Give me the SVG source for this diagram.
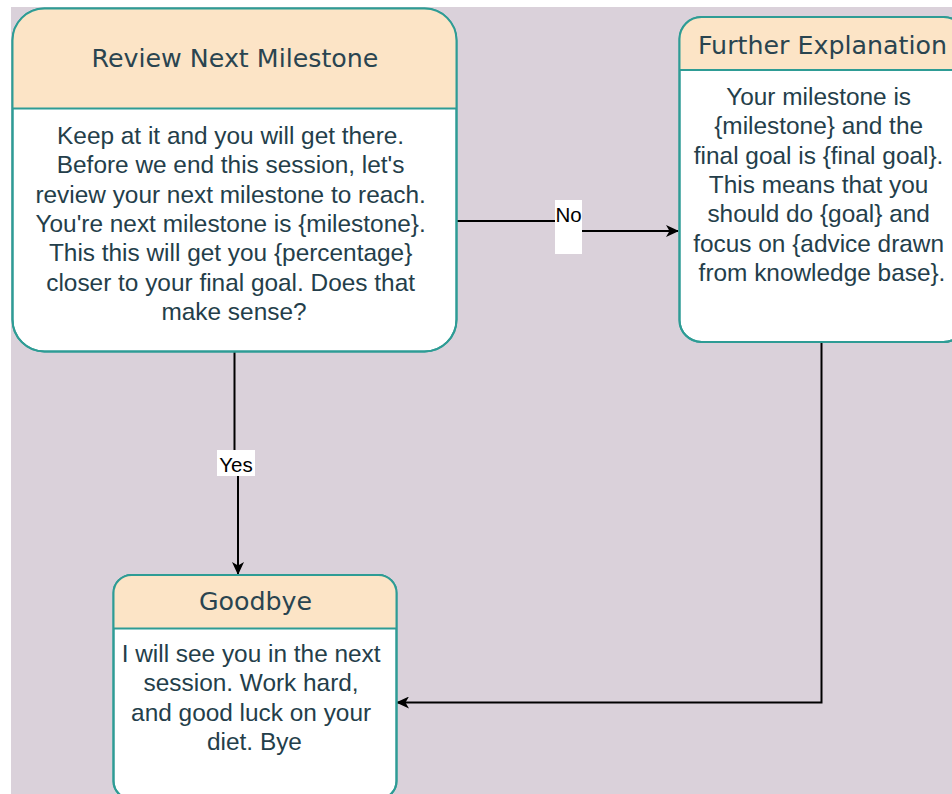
<svg xmlns="http://www.w3.org/2000/svg" width="952" height="794" viewBox="0 0 952 794">
  <style>
    .box { fill: #ffffff; stroke: #2e9c95; stroke-width: 2; }
    .head { fill: #fce4c6; }
    .sep { stroke: #2e9c95; stroke-width: 2; }
    .title { font-family: "DejaVu Sans", Verdana, sans-serif; font-size: 25.3px; fill: #2a4450; text-anchor: middle; }
    .body { font-family: "Liberation Sans", Arial, sans-serif; font-size: 24.4px; fill: #243e4a; text-anchor: middle; }
    .edge { fill: none; stroke: #000000; stroke-width: 2; }
    .lbl { font-family: "Liberation Sans", Arial, sans-serif; font-size: 20.5px; fill: #000000; text-anchor: middle; }
  </style>
  <defs>
    <marker id="arrow" viewBox="0 0 13 12" refX="12" refY="6" markerWidth="13" markerHeight="12" markerUnits="userSpaceOnUse" orient="auto">
      <path d="M0,0 L13,6 L0,12 L3.5,6 z" fill="#000000"/>
    </marker>
    <clipPath id="clipReview"><rect x="12.5" y="8.5" width="444" height="343" rx="32" ry="32"/></clipPath>
    <clipPath id="clipFurther"><rect x="679.5" y="17" width="286" height="325" rx="22" ry="22"/></clipPath>
    <clipPath id="clipGoodbye"><rect x="113.5" y="575" width="283" height="224" rx="18" ry="18"/></clipPath>
  </defs>

  <!-- canvas -->
  <rect x="0" y="0" width="952" height="794" fill="#ffffff"/>
  <rect x="11" y="7" width="941" height="787" fill="#dad1da"/>

  <!-- connectors -->
  <g id="connectors">
    <path class="edge" d="M234.5,352 L234.5,463 L238,463 L238,574" marker-end="url(#arrow)"/>
    <rect x="217" y="450" width="38" height="26" fill="#ffffff"/>
    <text class="lbl" x="236" y="472">Yes</text>

    <path class="edge" d="M457,221 L569,221 L569,231 L678,231" marker-end="url(#arrow)"/>
    <rect x="555" y="200" width="27" height="54" fill="#ffffff"/>
    <text class="lbl" x="568.5" y="222">No</text>

    <path class="edge" d="M821.5,342 L821.5,702.5 L397,702.5" marker-end="url(#arrow)"/>
  </g>

  <!-- Review Next Milestone -->
  <g id="review-next-milestone">
    <rect class="box" x="12.5" y="8.5" width="444" height="343" rx="32" ry="32"/>
    <rect class="head" x="12.5" y="8.5" width="444" height="100" clip-path="url(#clipReview)"/>
    <line class="sep" x1="12.5" y1="108.5" x2="456.5" y2="108.5"/>
    <rect x="12.5" y="8.5" width="444" height="343" rx="32" ry="32" fill="none" stroke="#2e9c95" stroke-width="2"/>
    <text class="title" x="235" y="67">Review Next Milestone</text>
    <text class="body" x="234">
      <tspan x="234" y="144">Keep at it and you will get there.</tspan>
      <tspan x="234" y="173.3">Before we end this session, let's</tspan>
      <tspan x="234" y="202.6">review your next milestone to reach.</tspan>
      <tspan x="234" y="231.9">You're next milestone is {milestone}.</tspan>
      <tspan x="234" y="261.2">This this will get you {percentage}</tspan>
      <tspan x="234" y="290.5">closer to your final goal. Does that</tspan>
      <tspan x="234" y="319.8">make sense?</tspan>
    </text>
  </g>

  <!-- Further Explanation -->
  <g id="further-explanation">
    <rect class="box" x="679.5" y="17" width="286" height="325" rx="22" ry="22"/>
    <rect class="head" x="679.5" y="17" width="286" height="53" clip-path="url(#clipFurther)"/>
    <line class="sep" x1="679.5" y1="70" x2="965.5" y2="70"/>
    <rect x="679.5" y="17" width="286" height="325" rx="22" ry="22" fill="none" stroke="#2e9c95" stroke-width="2"/>
    <text class="title" x="822.5" y="53.5">Further Explanation</text>
    <text class="body" x="822">
      <tspan x="822" y="105">Your milestone is</tspan>
      <tspan x="822" y="134.3">{milestone} and the</tspan>
      <tspan x="822" y="163.6">final goal is {final goal}.</tspan>
      <tspan x="822" y="192.9">This means that you</tspan>
      <tspan x="822" y="222.2">should do {goal} and</tspan>
      <tspan x="822" y="251.5">focus on {advice drawn</tspan>
      <tspan x="822" y="280.8">from knowledge base}.</tspan>
    </text>
  </g>

  <!-- Goodbye -->
  <g id="goodbye">
    <rect class="box" x="113.5" y="575" width="283" height="224" rx="18" ry="18"/>
    <rect class="head" x="113.5" y="575" width="283" height="53.5" clip-path="url(#clipGoodbye)"/>
    <line class="sep" x1="113.5" y1="628.5" x2="396.5" y2="628.5"/>
    <rect x="113.5" y="575" width="283" height="224" rx="18" ry="18" fill="none" stroke="#2e9c95" stroke-width="2"/>
    <text class="title" x="255.5" y="610">Goodbye</text>
    <text class="body" x="254.5">
      <tspan x="254.5" y="662">I will see you in the next</tspan>
      <tspan x="254.5" y="691.3">session. Work hard,</tspan>
      <tspan x="254.5" y="720.6">and good luck on your</tspan>
      <tspan x="254.5" y="749.9">diet. Bye</tspan>
    </text>
  </g>
</svg>
